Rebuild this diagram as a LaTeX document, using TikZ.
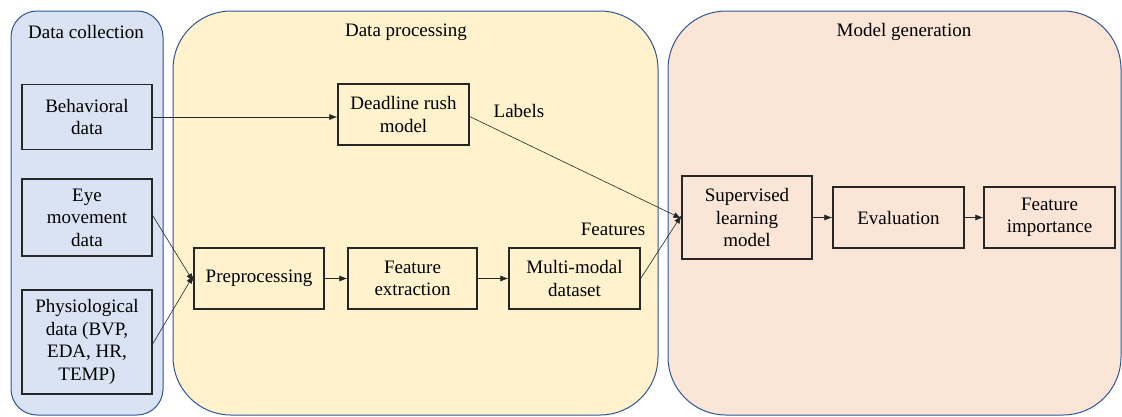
\documentclass[tikz,border=0pt]{standalone}
\usepackage{fontspec}
\setmainfont{Liberation Serif}
\newfontfamily\dfont{Liberation Serif}
\usetikzlibrary{arrows.meta}
\definecolor{grpblue}{HTML}{DAE3F3}
\definecolor{grpyellow}{HTML}{FFF2CC}
\definecolor{grppink}{HTML}{FBE5D6}
\definecolor{grpline}{HTML}{2F5597}
\tikzset{
  group/.style={draw=grpline, line width=1pt},
  box/.style={draw=black!85, line width=1.3pt, align=center, inner sep=0pt,
    font=\dfont\fontsize{19}{22.5}\selectfont},
  title/.style={font=\dfont\fontsize{19}{22.5}\selectfont, inner sep=0pt},
  conn/.style={draw=black!85, line width=0.6pt, -{Latex[length=8pt,width=6pt]}},
}
\begin{document}
\begin{tikzpicture}[x=1pt,y=-1pt]
\useasboundingbox (0,0) rectangle (1122,416);
% groups
\draw[group, fill=grpblue, rounded corners=26pt] (11,11) rectangle (163,415);
\draw[group, fill=grpyellow, rounded corners=58pt] (173,11) rectangle (658,415);
\draw[group, fill=grppink, rounded corners=58pt] (668,11) rectangle (1121,415);
\node[title] (t1) at (86,32) {Data collection};
\node[title] (t2) at (406,32) {Data processing};
\node[title] (t3) at (904,32) {Model generation};
% boxes
\node[box, fill=grpblue, minimum width=130pt, minimum height=65pt] (beh) at (87,117) {Behavioral\\data};
\node[box, fill=grpblue, minimum width=130pt, minimum height=77pt] (eye) at (87,217.5) {Eye\\movement\\data};
\node[box, fill=grpblue, minimum width=130pt, minimum height=104pt] (phy) at (87,342) {Physiological\\data (BVP,\\EDA, HR,\\TEMP)};
\node[box, fill=grpyellow, minimum width=131pt, minimum height=61pt] (dl) at (403.5,114.5) {Deadline rush\\model};
\node[box, fill=grpyellow, minimum width=130pt, minimum height=61pt] (pre) at (259,278.5) {Preprocessing};
\node[box, fill=grpyellow, minimum width=129pt, minimum height=61pt] (fe) at (412.5,278.5) {Feature\\extraction};
\node[box, fill=grpyellow, minimum width=131pt, minimum height=61pt] (mm) at (574.5,278.5) {Multi-modal\\dataset};
\node[box, fill=grppink, minimum width=130pt, minimum height=83pt] (sl) at (747,217.5) {Supervised\\learning\\model};
\node[box, fill=grppink, minimum width=131pt, minimum height=61pt] (ev) at (898.5,217.5) {Evaluation};
\node[box, fill=grppink, minimum width=131pt, minimum height=61pt] (fi) at (1049.5,217.5) {Feature\\importance};
% labels
\node[title] (lab) at (519,111) {Labels};
\node[title] (feat) at (613,229) {Features};
% connectors
\draw[conn] (beh.east) -- (beh.east -| dl.west);
\draw[conn] ([yshift=2pt]eye.east) -- ([yshift=-3pt]pre.west);
\draw[conn] ([yshift=-2pt]phy.east) -- ([yshift=3pt]pre.west);
\draw[conn] (pre) -- (fe);
\draw[conn] (fe) -- (mm);
\draw[conn] ([yshift=-2pt]dl.east) -- ([yshift=-1pt]sl.west);
\draw[conn] (mm.east) -- ([yshift=2pt]sl.west);
\draw[conn] (sl) -- (ev);
\draw[conn] (ev) -- (fi);
\end{tikzpicture}
\end{document}
